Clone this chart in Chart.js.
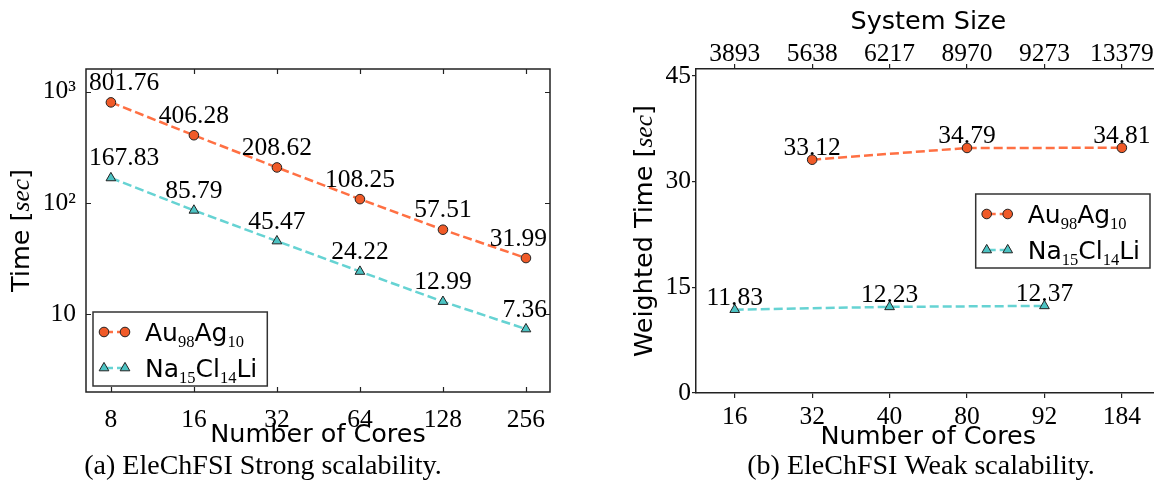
<!DOCTYPE html>
<html>
<head>
<meta charset="utf-8">
<script src="https://cdn.jsdelivr.net/npm/chart.js@4.4.0/dist/chart.umd.min.js"></script>
<style>
  html, body { margin: 0; padding: 0; background: #fff; overflow: hidden; width: 1154px; height: 498px; }
  canvas { position: absolute; top: 0; }
  #strong { left: 0; }
  #weak { left: 590px; }
</style>
</head>
<body>
<canvas id="strong" width="580" height="498"></canvas>
<canvas id="weak" width="610" height="498"></canvas>
<script>
// (a) strong scalability
const strongCores = [8, 16, 32, 64, 128, 256];
const strongAu = [801.76, 406.28, 208.62, 108.25, 57.51, 31.99];
const strongNa = [167.83, 85.79, 45.47, 24.22, 12.99, 7.36];
const strongYTicks = [10, 100, 1000];
const strongYLabels = ['10', '10²', '10³'];

// (b) weak scalability
const weakCoreLabels = ['16', '32', '40', '80', '92', '184'];
const weakSizeLabels = ['3893', '5638', '6217', '8970', '9273', '13379'];
const weakYTicks = [0, 15, 30, 45];
const weakAuCores = ['32', '80', '184'];
const weakAu = [33.12, 34.79, 34.81];
const weakNaCores = ['16', '40', '92'];
const weakNa = [11.83, 12.23, 12.37];

// legend names, [text, isSubscript]
const auName = [['Au', false], ['98', true], ['Ag', false], ['10', true]];
const naName = [['Na', false], ['15', true], ['Cl', false], ['14', true], ['Li', false]];

const AU_LINE = '#ff7043', AU_FILL = '#f05a28';
const NA_LINE = '#66d3d3', NA_FILL = '#4cc3c3';
const EDGE = '#222';
const SANS = '25.5px "DejaVu Sans"';
const LEG = '25px "DejaVu Sans"';
const SUB = '16.5px "Liberation Serif"';
const SERIF = '"Liberation Serif"';
const tickFont = { family: SERIF, size: 25.5, lineHeight: 1 };
const titleFont = { family: 'DejaVu Sans', size: 25.5 };

function auSet(data, name) {
  return {
    label: 'Au98Ag10', name, data,
    borderColor: AU_LINE, borderWidth: 2.5, borderDash: [9, 4],
    pointStyle: 'circle', pointRadius: 4.8, pointBorderWidth: 1,
    pointBackgroundColor: AU_FILL, pointBorderColor: EDGE, fill: false
  };
}
function naSet(data, name) {
  return {
    label: 'Na15Cl14Li', name, data,
    borderColor: NA_LINE, borderWidth: 2.5, borderDash: [9, 4],
    pointStyle: 'triangle', pointRadius: 5.6, pointBorderWidth: 1,
    pointBackgroundColor: NA_FILL, pointBorderColor: EDGE, fill: false
  };
}

function drawRuns(ctx, runs, x, y) {
  let cx = x;
  runs.forEach(r => {
    ctx.font = r.font;
    ctx.fillText(r.text, cx, y + (r.dy || 0));
    cx += ctx.measureText(r.text).width;
  });
  return cx - x;
}
function runsWidth(ctx, runs) {
  let w = 0;
  runs.forEach(r => { ctx.font = r.font; w += ctx.measureText(r.text).width; });
  return w;
}
function nameRuns(name) {
  return name.map(([t, sub]) => sub ? { text: t, font: SUB, dy: 6 } : { text: t, font: LEG });
}

// matplotlib style ticks pointing into the plot, plus the frame
const inwardTicks = {
  id: 'inwardTicks',
  afterDraw(chart) {
    const { ctx, chartArea: a, scales: { x, y } } = chart;
    ctx.save();
    ctx.strokeStyle = EDGE;
    ctx.lineWidth = 1.2;
    ctx.beginPath();
    x.ticks.forEach(t => {
      const px = Math.round(x.getPixelForValue(t.value)) + 0.5;
      ctx.moveTo(px, a.bottom); ctx.lineTo(px, a.bottom - 5);
      ctx.moveTo(px, a.top); ctx.lineTo(px, a.top + 5);
    });
    y.ticks.forEach(t => {
      const py = Math.round(y.getPixelForValue(t.value)) + 0.5;
      ctx.moveTo(a.left, py); ctx.lineTo(a.left + 5, py);
      ctx.moveTo(a.right, py); ctx.lineTo(a.right - 5, py);
    });
    ctx.stroke();
    ctx.lineWidth = 1.5;
    ctx.strokeRect(a.left, a.top, a.right - a.left, a.bottom - a.top);
    ctx.restore();
  }
};

// value annotations next to each point
const valueLabels = {
  id: 'valueLabels',
  afterDatasetsDraw(chart, args, opts) {
    const { ctx, chartArea: a } = chart;
    ctx.save();
    ctx.font = '25.5px ' + SERIF;
    ctx.fillStyle = '#000';
    ctx.textAlign = 'center';
    ctx.textBaseline = 'alphabetic';
    chart.data.datasets.forEach((ds, i) => {
      chart.getDatasetMeta(i).data.forEach((pt, j) => {
        const txt = ds.data[j].y.toFixed(2);
        const w = ctx.measureText(txt).width;
        const cx = Math.min(Math.max(pt.x, a.left + 3 + w / 2), a.right - 3 - w / 2);
        ctx.fillText(txt, cx, pt.y - opts.dy);
      });
    });
    ctx.restore();
  }
};

// legend with marker-line-marker samples and subscripts
const sketchLegend = {
  id: 'sketchLegend',
  afterDraw(chart, args, opts) {
    const { ctx, chartArea: a } = chart;
    const rows = chart.data.datasets.map(ds => ({ ds, runs: nameRuns(ds.name) }));
    const textW = Math.max(...rows.map(r => runsWidth(ctx, r.runs)));
    const w = 52 + textW + 10, h = 74;
    let left, top;
    if (opts.place === 'lowerLeft') {
      left = a.left + 7; top = a.bottom - 6 - h;
    } else {
      left = a.right - 10.6 - w; top = (a.top + a.bottom) / 2 - h / 2;
    }
    ctx.save();
    ctx.fillStyle = '#fff';
    ctx.fillRect(left, top, w, h);
    ctx.strokeStyle = '#333';
    ctx.lineWidth = 1.5;
    ctx.strokeRect(left, top, w, h);
    rows.forEach((r, i) => {
      const y = top + 20 + i * 36;
      const x1 = left + 11, x2 = left + 32;
      ctx.strokeStyle = r.ds.borderColor;
      ctx.lineWidth = r.ds.borderWidth;
      ctx.setLineDash(r.ds.borderDash);
      ctx.beginPath(); ctx.moveTo(x1, y); ctx.lineTo(x2, y); ctx.stroke();
      ctx.setLineDash([]);
      ctx.fillStyle = r.ds.pointBackgroundColor;
      ctx.strokeStyle = r.ds.pointBorderColor;
      ctx.lineWidth = r.ds.pointBorderWidth;
      [x1, x2].forEach(px => Chart.helpers.drawPoint(ctx, {
        pointStyle: r.ds.pointStyle, radius: r.ds.pointRadius, rotation: 0, borderWidth: 1
      }, px, y));
      ctx.fillStyle = '#000';
      ctx.textBaseline = 'alphabetic';
      drawRuns(ctx, r.runs, left + 52, y + 9);
    });
    ctx.restore();
  }
};

// rotated y title with italic unit, and the sub-figure caption
const figureText = {
  id: 'figureText',
  afterDraw(chart, args, opts) {
    const { ctx, chartArea: a } = chart;
    ctx.save();
    ctx.fillStyle = '#000';
    const runs = [
      { text: opts.yTitle + ' [', font: SANS },
      { text: 'sec', font: 'italic 25.5px ' + SERIF },
      { text: ']', font: SANS }
    ];
    const w = runsWidth(ctx, runs);
    ctx.translate(opts.yTitleX, (a.top + a.bottom) / 2);
    ctx.rotate(-Math.PI / 2);
    ctx.textBaseline = 'middle';
    drawRuns(ctx, runs, -w / 2, 0);
    ctx.restore();
    ctx.save();
    ctx.fillStyle = '#000';
    ctx.font = '28px ' + SERIF;
    ctx.textAlign = 'center';
    ctx.textBaseline = 'middle';
    ctx.fillText(opts.caption, opts.captionX, opts.captionY);
    ctx.restore();
  }
};

const baseOptions = {
  responsive: false,
  animation: false,
  devicePixelRatio: 1,
  elements: { line: { tension: 0 } }
};

new Chart(document.getElementById('strong'), {
  type: 'line',
  data: {
    datasets: [
      auSet(strongCores.map((c, i) => ({ x: c, y: strongAu[i] })), auName),
      naSet(strongCores.map((c, i) => ({ x: c, y: strongNa[i] })), naName)
    ]
  },
  options: {
    ...baseOptions,
    layout: { padding: { left: 0, top: 69, right: 30, bottom: 46 } },
    plugins: {
      legend: { display: false },
      tooltip: { enabled: false },
      valueLabels: { dy: 12.5 },
      sketchLegend: { place: 'lowerLeft' },
      figureText: { yTitle: 'Time', yTitleX: 22, caption: '(a) EleChFSI Strong scalability.', captionX: 263, captionY: 467 }
    },
    scales: {
      x: {
        type: 'logarithmic', min: 6.498, max: 312.9,
        afterBuildTicks: s => { s.ticks = strongCores.map(v => ({ value: v })); },
        afterFit: s => { s.height = 60; },
        grid: { display: false }, border: { display: false },
        ticks: { font: tickFont, color: '#000', padding: 8, autoSkip: false, maxRotation: 0, callback: v => String(v) },
        title: { display: true, text: 'Number of Cores', font: titleFont, color: '#000', padding: { top: 0, bottom: 1 } }
      },
      y: {
        type: 'logarithmic', min: 2, max: 1600,
        afterBuildTicks: s => { s.ticks = strongYTicks.map(v => ({ value: v })); },
        afterFit: s => { s.width = 86; },
        grid: { display: false }, border: { display: false },
        ticks: { font: tickFont, color: '#000', padding: 2, callback: v => strongYLabels[strongYTicks.indexOf(v)] }
      }
    }
  },
  plugins: [inwardTicks, valueLabels, sketchLegend, figureText]
});

const outGrid = { display: true, drawOnChartArea: false, drawTicks: true, tickLength: 5, color: EDGE, lineWidth: 1.2, offset: false };
const frame = { display: true, color: EDGE, width: 1.5 };

new Chart(document.getElementById('weak'), {
  type: 'line',
  data: {
    datasets: [
      auSet(weakAuCores.map((c, i) => ({ x: c, y: weakAu[i] })), auName),
      naSet(weakNaCores.map((c, i) => ({ x: c, y: weakNa[i] })), naName)
    ]
  },
  options: {
    ...baseOptions,
    layout: { padding: { left: 0, top: 0, right: 39.4, bottom: 45 } },
    plugins: {
      legend: { display: false },
      tooltip: { enabled: false },
      valueLabels: { dy: 5 },
      sketchLegend: { place: 'centerRight' },
      figureText: { yTitle: 'Weighted Time', yTitleX: 55, caption: '(b) EleChFSI Weak scalability.', captionX: 331, captionY: 467 }
    },
    scales: {
      x: {
        type: 'category', labels: weakCoreLabels, offset: true,
        afterFit: s => { s.height = 60; },
        grid: outGrid, border: frame,
        ticks: { font: tickFont, color: '#000', padding: 7, autoSkip: false, maxRotation: 0 },
        title: { display: true, text: 'Number of Cores', font: titleFont, color: '#000', padding: { top: 0, bottom: 0 } }
      },
      x2: {
        type: 'category', position: 'top', labels: weakSizeLabels, offset: true,
        afterFit: s => { s.height = 69; },
        grid: outGrid, border: frame,
        ticks: { font: tickFont, color: '#000', padding: -3, autoSkip: false, maxRotation: 0 },
        title: { display: true, text: 'System Size', font: titleFont, color: '#000', padding: { top: 7, bottom: 0 } }
      },
      y: {
        type: 'linear', min: 0, max: 46,
        afterBuildTicks: s => { s.ticks = weakYTicks.map(v => ({ value: v })); },
        afterFit: s => { s.width = 106; },
        grid: { ...outGrid, tickLength: 4 }, border: frame,
        ticks: { font: tickFont, color: '#000', padding: 1 }
      }
    }
  },
  plugins: [valueLabels, sketchLegend, figureText]
});
</script>
</body>
</html>
